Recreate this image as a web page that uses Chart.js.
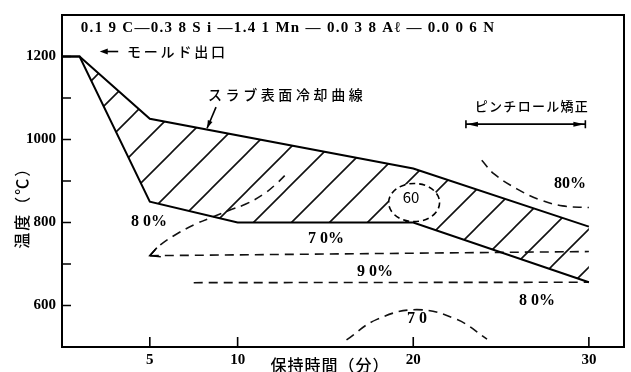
<!DOCTYPE html>
<html>
<head>
<meta charset="utf-8">
<script src="https://cdn.jsdelivr.net/npm/chart.js@4/dist/chart.umd.min.js"></script>
<style>
  html, body { margin: 0; padding: 0; background: #fff; }
  canvas { display: block; }
</style>
</head>
<body>
<canvas id="c" width="631" height="372"></canvas>
<script>
// Slab surface cooling curve (upper edge of the hatched band) and its lower edge
const upperTime = [0, 1, 5, 20, 30];
const upperTemp = [1200, 1200, 1050, 930, 790];
const lowerTime = [0, 1, 5, 10, 20, 30];
const lowerTemp = [1200, 1200, 850, 800, 800, 656];

// Dashed contour lines
const c80LeftTime = [5, 5.6, 6.6, 7.7, 8.5, 9.5, 10.5, 11.5, 12.2, 12.8];
const c80LeftTemp = [720, 746, 774, 798, 812, 829, 845, 869, 893, 918];
const c90UpperTime = [5, 30];
const c90UpperTemp = [720, 730];
const c90LowerTime = [7.5, 30];
const c90LowerTemp = [655, 656];
const c80RightTime = [23.9, 24.6, 25.9, 27.2, 28.5, 30];
const c80RightTemp = [950, 917, 881, 855, 840, 836];
const c70BottomTime = [16.2, 17.9, 20.2, 22.5, 24.2];
const c70BottomTemp = [517, 566, 590, 566, 519];
// Closed 60 contour: centre time, centre temperature, half-width (min), half-height (°C)
const c60Ring = [20.05, 848, 1.45, 46];

// Pinch-roll straightening range (min) and the temperature level of its bar
const pinchRange = [23, 29.8];
const pinchLevel = 1037;

// Axis ticks
const xTicks = [5, 10, 20, 30];
const yTicks = [600, 700, 800, 900, 1000, 1100, 1200];
const yTickLabels = [600, 800, 1000, 1200];

const SERIF = '"Liberation Serif", "DejaVu Serif", serif';
const JP = '"Noto Sans CJK JP", "Noto Sans", sans-serif';

// Text notes placed in data coordinates
const notes = [
  { text: '0.1 9 C—0.3 8 S i —1.4 1 Mn — 0.0 3 8 Aℓ — 0.0 0 6 N', t: 12.87, T: 1269,
    font: 'bold 15px ' + SERIF, align: 'center', spacing: 1.3 },
  { text: 'モールド出口', t: 3.7, T: 1212, font: '500 14px ' + JP, align: 'left', spacing: 2.8 },
  { text: 'スラブ表面冷却曲線', t: 8.31, T: 1107, font: '500 14px ' + JP, align: 'left', spacing: 3.6 },
  { text: 'ピンチロール矯正', t: 26.76, T: 1080, font: '500 13px ' + JP, align: 'center', spacing: 1.3 },
  { text: '8 0%', t: 4.95, T: 801, font: 'bold 16px ' + SERIF, align: 'center', spacing: 0 },
  { text: '7 0%', t: 15.03, T: 760, font: 'bold 16px ' + SERIF, align: 'center', spacing: 0 },
  { text: '9 0%', t: 17.82, T: 681, font: 'bold 16px ' + SERIF, align: 'center', spacing: 0 },
  { text: '8 0%', t: 27.05, T: 612, font: 'bold 16px ' + SERIF, align: 'center', spacing: 0 },
  { text: '80%', t: 28.93, T: 894, font: 'bold 16px ' + SERIF, align: 'center', spacing: 0 },
  { text: '60', t: 19.87, T: 861, font: '15px ' + JP, align: 'center', spacing: 0 },
  { text: '7 0', t: 20.21, T: 569, font: 'bold 16px ' + SERIF, align: 'center', spacing: 0 }
];

const pts = (xs, ys) => xs.map((x, i) => ({ x: x, y: ys[i] }));

// Diagonal hatching for the band between the two cooling curves
function hatchPattern() {
  const s = 38;
  const tile = document.createElement('canvas');
  tile.width = tile.height = s;
  const g = tile.getContext('2d');
  g.strokeStyle = '#111';
  g.lineWidth = 1.6;
  g.beginPath();
  g.moveTo(-2, s + 2); g.lineTo(s + 2, -2);
  g.moveTo(-2, 2); g.lineTo(2, -2);
  g.moveTo(s - 2, s + 2); g.lineTo(s + 2, s - 2);
  g.stroke();
  const p = g.createPattern(tile, 'repeat');
  if (p.setTransform) p.setTransform(new DOMMatrix().translate(20, 0));
  return p;
}

const solid = { borderColor: '#000', borderWidth: 2, pointRadius: 0, tension: 0, fill: false, order: 1 };
const dashed = { borderColor: '#111', borderWidth: 1.6, borderDash: [9, 6], pointRadius: 0, fill: false, order: 1 };

function arrowHead(ctx, x, y, dx, dy, len, half) {
  const n = Math.hypot(dx, dy); dx /= n; dy /= n;
  ctx.beginPath();
  ctx.moveTo(x, y);
  ctx.lineTo(x - dx * len - dy * half, y - dy * len + dx * half);
  ctx.lineTo(x - dx * len + dy * half, y - dy * len - dx * half);
  ctx.closePath();
  ctx.fill();
}

const decorations = {
  id: 'decorations',
  afterDatasetDraw(chart, args) {
    // keep the inside of the 60 contour clear of hatching
    if (args.index !== 0) return;
    const { ctx, scales: { x, y } } = chart;
    const [t, T, dt, dT] = c60Ring;
    const cx = x.getPixelForValue(t), cy = y.getPixelForValue(T);
    ctx.save();
    ctx.fillStyle = '#fff';
    ctx.beginPath();
    ctx.ellipse(cx, cy, x.getPixelForValue(t + dt) - cx, cy - y.getPixelForValue(T + dT), 0, 0, Math.PI * 2);
    ctx.fill();
    ctx.restore();
  },
  afterDraw(chart) {
    const { ctx, chartArea: a, scales: { x, y } } = chart;
    const px = v => x.getPixelForValue(v), py = v => y.getPixelForValue(v);
    ctx.save();
    ctx.strokeStyle = '#000';
    ctx.fillStyle = '#000';

    // frame
    ctx.lineWidth = 2;
    ctx.strokeRect(a.left, a.top, a.right - a.left, a.bottom - a.top);

    // inward tick marks
    ctx.lineWidth = 1.6;
    ctx.beginPath();
    y.ticks.forEach(tk => { const p = py(tk.value); ctx.moveTo(a.left, p); ctx.lineTo(a.left + 9, p); });
    x.ticks.forEach(tk => { const p = px(tk.value); ctx.moveTo(p, a.bottom); ctx.lineTo(p, a.bottom - 10); });
    ctx.stroke();

    // 60 contour outline
    const [t, T, dt, dT] = c60Ring;
    const cx = px(t), cy = py(T);
    ctx.lineWidth = 1.6;
    ctx.setLineDash([6, 4]);
    ctx.beginPath();
    ctx.ellipse(cx, cy, px(t + dt) - cx, cy - py(T + dT), 0, 0, Math.PI * 2);
    ctx.stroke();
    ctx.setLineDash([]);

    // open arrow head at the start of the left 80 % contour
    const ax = px(c80LeftTime[0]), ay = py(c80LeftTemp[0]);
    ctx.lineWidth = 1.6;
    ctx.beginPath();
    ctx.moveTo(ax + 7, ay - 8); ctx.lineTo(ax, ay); ctx.lineTo(ax + 11, ay + 1);
    ctx.stroke();

    // pinch-roll straightening range bar
    const bx0 = px(pinchRange[0]), bx1 = px(pinchRange[1]), by = py(pinchLevel);
    ctx.lineWidth = 1.6;
    ctx.beginPath();
    ctx.moveTo(bx0, by); ctx.lineTo(bx1, by);
    ctx.moveTo(bx0, by - 4); ctx.lineTo(bx0, by + 4);
    ctx.moveTo(bx1, by - 4); ctx.lineTo(bx1, by + 4);
    ctx.stroke();
    arrowHead(ctx, bx0 + 1, by, -1, 0, 11, 2.5);
    arrowHead(ctx, bx1 - 1, by, 1, 0, 11, 2.5);

    // arrow pointing to the mould exit
    const m0 = px(3.2), m1 = px(2.15), my = py(1212);
    ctx.lineWidth = 1.6;
    ctx.beginPath(); ctx.moveTo(m0, my); ctx.lineTo(m1 + 6, my); ctx.stroke();
    arrowHead(ctx, m1, my, -1, 0, 8, 3);

    // leader from the curve name to the cooling curve
    const l0x = px(8.77), l0y = py(1078), l1x = px(8.26), l1y = py(1027);
    ctx.beginPath(); ctx.moveTo(l0x, l0y); ctx.lineTo(l1x, l1y); ctx.stroke();
    arrowHead(ctx, l1x, l1y, l1x - l0x, l1y - l0y, 8, 2.5);

    // text notes
    ctx.textBaseline = 'middle';
    notes.forEach(n => {
      ctx.font = n.font;
      ctx.letterSpacing = n.spacing + 'px';
      ctx.textAlign = n.align;
      ctx.fillText(n.text, px(n.t), py(n.T));
    });

    // axis titles
    ctx.font = '500 16px ' + JP;
    ctx.textAlign = 'center';
    ctx.letterSpacing = '1px';
    ctx.fillText('保持時間（分）', px(15.26), a.bottom + 18);
    ctx.save();
    ctx.translate(a.left - 40, py(845));
    ctx.rotate(-Math.PI / 2);
    ctx.letterSpacing = '2px';
    ctx.fillText('温度（℃）', 0, 0);
    ctx.restore();
    ctx.letterSpacing = '0px';

    ctx.restore();
  }
};

new Chart(document.getElementById('c'), {
  type: 'line',
  data: {
    datasets: [
      { label: 'スラブ表面冷却曲線', data: pts(upperTime, upperTemp), ...solid,
        fill: '+1', backgroundColor: hatchPattern(), order: 2 },
      { label: 'lower', data: pts(lowerTime, lowerTemp), ...solid },
      { label: '80% left', data: pts(c80LeftTime, c80LeftTemp), ...dashed, tension: 0.4 },
      { label: '90% upper', data: pts(c90UpperTime, c90UpperTemp), ...dashed },
      { label: '90% lower', data: pts(c90LowerTime, c90LowerTemp), ...dashed },
      { label: '80% right', data: pts(c80RightTime, c80RightTemp), ...dashed, tension: 0.4 },
      { label: '70 bottom', data: pts(c70BottomTime, c70BottomTemp), ...dashed, tension: 0.4 }
    ]
  },
  options: {
    responsive: false,
    animation: false,
    devicePixelRatio: 1,
    layout: { padding: { left: 0, right: 7, top: 12, bottom: 0 } },
    plugins: { legend: { display: false }, tooltip: { enabled: false } },
    scales: {
      x: {
        type: 'linear', min: 0, max: 32,
        grid: { display: false, drawTicks: false },
        border: { display: false },
        afterBuildTicks: s => { s.ticks = xTicks.map(v => ({ value: v })); },
        afterFit: s => { s.height = 25; },
        ticks: { color: '#000', padding: 4, maxRotation: 0, autoSkip: false,
                 font: { family: SERIF, size: 15, weight: 'bold' } }
      },
      y: {
        type: 'linear', min: 500, max: 1300,
        grid: { display: false, drawTicks: false },
        border: { display: false },
        afterBuildTicks: s => { s.ticks = yTicks.map(v => ({ value: v })); },
        afterFit: s => { s.width = 62; },
        ticks: { color: '#000', padding: 6, autoSkip: false,
                 callback: v => yTickLabels.includes(v) ? String(v) : '',
                 font: { family: SERIF, size: 15, weight: 'bold' } }
      }
    }
  },
  plugins: [decorations]
});
</script>
</body>
</html>
